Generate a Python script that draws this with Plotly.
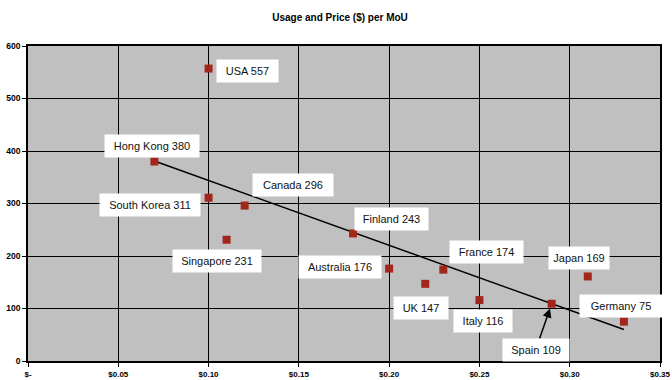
import plotly.graph_objects as go
import numpy as np

countries = ["USA", "Hong Kong", "South Korea", "Canada", "Singapore", "Finland",
             "Australia", "UK", "France", "Italy", "Spain", "Japan", "Germany"]
price = [0.10, 0.07, 0.10, 0.12, 0.11, 0.18, 0.20, 0.22, 0.23, 0.25, 0.29, 0.31, 0.33]
usage = [557, 380, 311, 296, 231, 243, 176, 147, 174, 116, 109, 161, 75]
label_values = [557, 380, 311, 296, 231, 243, 176, 147, 174, 116, 109, 169, 75]

x_tickvals = [0, 0.05, 0.10, 0.15, 0.20, 0.25, 0.30, 0.35]
x_ticktext = ["$-", "$0.05", "$0.10", "$0.15", "$0.20", "$0.25", "$0.30", "$0.35"]
y_tickvals = [0, 100, 200, 300, 400, 500, 600]

# label box placement (pixel offsets from point; box widths)
label_dx = [39, -2, -59, 48, -10, 38, -49, -4, 43, 4, -16, -9, -3]
label_dy = [2, -16, 7, -21, 21, -14, -2, 24, -18, 21, 46, -18, -16]
box_w = [61, 94, 100, 80, 88, 73, 82, 54, 73, 58, 66, 60, 82]
arrow_flag = [False] * 10 + [True] + [False, False]

fit = np.polyfit(price, usage, 1)
trend_x = [min(price), max(price)]
trend_y = [float(np.polyval(fit, v)) for v in trend_x]

fig = go.Figure()
fig.add_trace(go.Scatter(x=trend_x, y=trend_y, mode="lines",
                         line=dict(color="black", width=1.5), hoverinfo="skip",
                         showlegend=False))
fig.add_trace(go.Scatter(x=price, y=usage, mode="markers", text=countries,
                         marker=dict(symbol="square", size=8, color="#A3261C"),
                         showlegend=False))

pad = 4
for c, x, y, v, dx, dy, w, arr in zip(countries, price, usage, label_values,
                                      label_dx, label_dy, box_w, arrow_flag):
    common = dict(x=x, y=y, xref="x", yref="y", text=f"{c} {v}",
                  font=dict(family="Liberation Sans, Arial", size=11, color="#111"),
                  bgcolor="white", borderpad=pad, width=w - 2 * pad, height=22 - 2 * pad,
                  align="center")
    if arr:
        fig.add_annotation(**common, showarrow=True, ax=dx, ay=dy,
                           arrowhead=2, arrowsize=1.2, arrowwidth=1.5,
                           arrowcolor="black", standoff=5)
    else:
        fig.add_annotation(**common, showarrow=False, xshift=dx, yshift=-dy)

fig.update_layout(
    width=672, height=380,
    margin=dict(l=28, r=12, t=46, b=19),
    paper_bgcolor="white", plot_bgcolor="#C0C0C0",
    title=dict(text="<b>Usage and Price ($) per MoU</b>", x=0.506, xanchor="center",
               y=0.955, yanchor="middle",
               font=dict(family="Liberation Sans, Arial", size=10, color="black")),
    font=dict(family="Liberation Sans, Arial", color="black"),
)
fig.update_xaxes(range=[0, 0.35], tickvals=x_tickvals, ticktext=x_ticktext,
                 showgrid=True, gridcolor="black", gridwidth=1, zeroline=False,
                 showline=True, linecolor="black", linewidth=1.5, mirror=True,
                 ticks="outside", ticklen=4, tickcolor="black", automargin=False,
                 ticklabelstandoff=1,
                 tickfont=dict(size=8, family="Liberation Sans, Arial", weight="bold"))
fig.update_yaxes(range=[0, 600], tickvals=y_tickvals,
                 showgrid=True, gridcolor="black", gridwidth=1, zeroline=False,
                 showline=True, linecolor="black", linewidth=1.5, mirror=True,
                 ticks="outside", ticklen=4, tickcolor="black", automargin=False,
                 tickfont=dict(size=8.5, family="Liberation Sans, Arial", weight="bold"))

fig.write_html("out.html")
